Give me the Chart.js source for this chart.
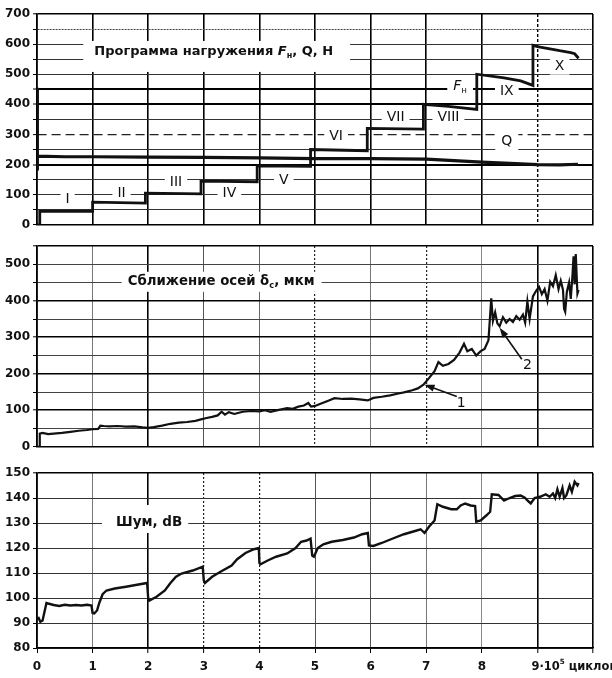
<!DOCTYPE html>
<html>
<head>
<meta charset="utf-8">
<script src="https://cdn.jsdelivr.net/npm/chart.js@4.4.0/dist/chart.umd.min.js"></script>
<style>
  html, body { margin: 0; padding: 0; background: #fff; }
  #wrap { position: relative; width: 612px; height: 678px; overflow: hidden; background: #fff; }
  #wrap canvas { position: absolute; left: 0; }
</style>
</head>
<body>
<div id="wrap">
  <canvas id="loadChart" width="612" height="235" style="top:0px"></canvas>
  <canvas id="approachChart" width="612" height="222" style="top:235px"></canvas>
  <canvas id="noiseChart" width="612" height="221" style="top:457px"></canvas>
</div>
<script>
// ---------- Loading programme: normal load F_N (steps I..X) and Q, N ----------
const fnCycles = [0, 0.05, 0.05, 1.0, 1.0, 1.95, 1.95, 2.95, 2.95, 3.96, 3.96, 4.92, 4.92, 5.94, 5.94, 6.95, 6.95, 7.4, 7.91, 7.91, 8.4, 8.7, 8.92, 8.92, 9.0, 9.2, 9.4, 9.6, 9.67, 9.74];
const fnLoad   = [0, 0, 45, 45, 75, 72, 105, 103, 145, 143, 196, 194, 250, 246, 320, 318, 400, 393, 383, 500, 488, 478, 463, 596, 592, 585, 578, 572, 568, 553];

const qCycles = [0, 0.003, 0.01, 0.5, 1, 2, 3, 4, 5, 6, 7, 7.5, 8, 8.5, 9, 9.4, 9.73];
const qLoad   = [455, 180, 228, 226, 226, 225, 224, 222, 220, 220, 218, 213, 208, 204, 200, 199, 201];

// ---------- Axis approach delta_c, um ----------
const deltaCycles = [0, 0.04, 0.05, 0.1, 0.2, 0.3, 0.45, 0.6, 0.75, 0.9, 1.0, 1.1, 1.14, 1.2, 1.3, 1.45, 1.6, 1.75, 1.9, 2.0,
  2.1, 2.25, 2.4, 2.55, 2.7, 2.85, 2.95, 3.05, 3.15, 3.25, 3.32, 3.38, 3.45, 3.55, 3.7, 3.85, 4.0, 4.1, 4.2, 4.35,
  4.5, 4.6, 4.7, 4.8, 4.88, 4.93, 5.0, 5.1, 5.25, 5.35, 5.5, 5.65, 5.8, 5.95, 6.05, 6.2, 6.35, 6.5, 6.6, 6.75,
  6.85, 6.95, 7.05, 7.15, 7.22, 7.3, 7.4, 7.5, 7.6, 7.68, 7.74, 7.82, 7.9, 7.98, 8.05, 8.12, 8.17, 8.2, 8.24, 8.28,
  8.32, 8.38, 8.44, 8.5, 8.56, 8.62, 8.68, 8.74, 8.78, 8.82, 8.86, 8.92, 8.98, 9.03, 9.08, 9.13, 9.18, 9.23, 9.28, 9.33,
  9.38, 9.42, 9.46, 9.48, 9.5, 9.53, 9.57, 9.6, 9.63, 9.65, 9.67, 9.69, 9.72, 9.74];
const deltaValues = [0, 0, 36, 38, 35, 36, 38, 41, 44, 46, 48, 49, 58, 57, 56, 57, 55, 56, 53, 52,
  54, 58, 63, 66, 68, 71, 75, 79, 82, 86, 96, 88, 95, 90, 96, 98, 97, 100, 96, 101,
  106, 104, 110, 113, 120, 110, 112, 118, 127, 133, 131, 132, 130, 127, 134, 137, 141, 146, 149, 155,
  160, 170, 188, 207, 232, 222, 227, 238, 258, 282, 262, 268, 250, 262, 268, 292, 407, 345, 368, 338,
  330, 355, 340, 350, 342, 358, 348, 362, 340, 398, 350, 412, 428, 438, 418, 432, 400, 452, 440, 470,
  432, 455, 430, 378, 370, 425, 450, 405, 468, 522, 445, 528, 420, 430];

// ---------- Noise, dB ----------
const noiseCycles = [0, 0.03, 0.06, 0.1, 0.13, 0.17, 0.2, 0.3, 0.4, 0.5, 0.6, 0.7, 0.8, 0.9, 0.98, 1.0, 1.03, 1.08, 1.12, 1.18,
  1.25, 1.4, 1.6, 1.8, 1.98, 2.0, 2.02, 2.15, 2.3, 2.4, 2.5, 2.6, 2.8, 2.98, 3.0, 3.02, 3.15, 3.3, 3.5, 3.6,
  3.75, 3.9, 3.99, 4.0, 4.02, 4.15, 4.3, 4.5, 4.65, 4.75, 4.85, 4.92, 4.95, 4.98, 5.05, 5.15, 5.3, 5.5, 5.7, 5.85,
  5.95, 5.97, 6.05, 6.2, 6.4, 6.6, 6.8, 6.9, 6.97, 7.05, 7.15, 7.2, 7.3, 7.45, 7.55, 7.62, 7.7, 7.8, 7.88, 7.9,
  7.98, 8.08, 8.15, 8.18, 8.3, 8.4, 8.5, 8.6, 8.7, 8.78, 8.82, 8.88, 8.95, 9.05, 9.15, 9.22, 9.28, 9.32, 9.36, 9.4,
  9.45, 9.48, 9.52, 9.58, 9.62, 9.67, 9.72, 9.74];
const noiseValues = [91.5, 92, 90.5, 91, 94, 98, 97.8, 97.2, 96.8, 97.3, 97, 97.2, 97, 97.3, 97, 94, 93.8, 95, 98, 101.5,
  103, 103.8, 104.5, 105.3, 106, 100, 99, 100.5, 103, 106, 108.5, 109.8, 111, 112.5, 107, 106, 108.5, 110.5, 113, 115.5,
  118, 119.5, 120, 114, 113.5, 115, 116.5, 117.8, 120, 122.5, 123, 123.8, 117, 116.5, 120, 121.5, 122.5, 123.2, 124.2, 125.5,
  126, 121, 120.8, 122, 123.8, 125.5, 126.8, 127.5, 126, 128.5, 131, 137.5, 136.5, 135.5, 135.5, 137, 137.8, 137, 136.8, 130.5,
  131, 133, 134.5, 141.5, 141.2, 139, 140, 140.8, 141, 140, 139, 137.8, 140, 140.5, 141.5, 140.5, 141.8, 140, 143.5, 140.5,
  144, 140, 141, 145, 142.5, 146.5, 145, 146];

// ---------- Tick labels and text ----------
const cycleTickLabels = ['0', '1', '2', '3', '4', '5', '6', '7', '8'];
const stageNames  = ['I', 'II', 'III', 'IV', 'V', 'VI', 'VII', 'VIII', 'IX', 'X'];
const stageCycles = [0.55, 1.52, 2.50, 3.46, 4.44, 5.38, 6.45, 7.40, 8.45, 9.40];
const stageLevels = [83, 103, 140, 103, 149, 295, 357, 357, 442, 525];

const FONT = "'DejaVu Sans', 'Liberation Sans', Arial, sans-serif";
const INK = '#111';

function toPoints(xs, ys) { return xs.map((x, i) => ({ x: x, y: ys[i] })); }

// ---------- rich text helpers (italic / subscript / superscript pieces) ----------
function layoutRich(ctx, parts, size, weight) {
  let w = 0;
  const segs = parts.map(p => {
    const small = p.sub || p.sup;
    const fs = small ? size * 0.62 : size;
    const font = (p.it ? 'italic ' : '') + weight + ' ' + fs + 'px ' + FONT;
    ctx.font = font;
    const sw = ctx.measureText(p.t).width;
    const seg = { t: p.t, font: font, dx: w, dy: p.sub ? size * 0.32 : (p.sup ? -size * 0.38 : 0), w: sw };
    w += sw;
    return seg;
  });
  return { segs: segs, w: w };
}

function notePosition(chart, item, ctx) {
  const cx = chart.scales.x.getPixelForValue(item.x);
  const cy = chart.scales.y.getPixelForValue(item.y);
  const lay = layoutRich(ctx, item.parts, item.size, item.weight || 'bold');
  const left = item.align === 'left' ? cx : cx - lay.w / 2;
  return { left: left, cy: cy, lay: lay };
}

function makeNotes(items, arrows) {
  return {
    id: 'notes',
    beforeDatasetsDraw(chart) {
      const ctx = chart.ctx;
      ctx.save();
      ctx.fillStyle = '#fff';
      items.forEach(item => {
        if (!item.box) return;
        const p = notePosition(chart, item, ctx);
        const b = item.box; // top, right, bottom, left
        ctx.fillRect(p.left - b[3], p.cy - b[0], p.lay.w + b[1] + b[3], b[0] + b[2]);
      });
      ctx.restore();
    },
    afterDatasetsDraw(chart) {
      const ctx = chart.ctx;
      ctx.save();
      ctx.fillStyle = INK;
      ctx.textBaseline = 'middle';
      ctx.textAlign = 'left';
      items.forEach(item => {
        const p = notePosition(chart, item, ctx);
        p.lay.segs.forEach(s => {
          ctx.font = s.font;
          ctx.fillText(s.t, p.left + s.dx, p.cy + s.dy);
        });
      });
      (arrows || []).forEach(a => {
        const xs = chart.scales.x, ys = chart.scales.y;
        const x1 = xs.getPixelForValue(a.from[0]), y1 = ys.getPixelForValue(a.from[1]);
        const x2 = xs.getPixelForValue(a.to[0]), y2 = ys.getPixelForValue(a.to[1]);
        const ang = Math.atan2(y2 - y1, x2 - x1);
        ctx.strokeStyle = INK;
        ctx.lineWidth = 1.6;
        ctx.beginPath();
        ctx.moveTo(x1, y1);
        ctx.lineTo(x2 - 6 * Math.cos(ang), y2 - 6 * Math.sin(ang));
        ctx.stroke();
        ctx.beginPath();
        ctx.moveTo(x2, y2);
        ctx.lineTo(x2 - 10 * Math.cos(ang) + 3.5 * Math.sin(ang), y2 - 10 * Math.sin(ang) - 3.5 * Math.cos(ang));
        ctx.lineTo(x2 - 10 * Math.cos(ang) - 3.5 * Math.sin(ang), y2 - 10 * Math.sin(ang) + 3.5 * Math.cos(ang));
        ctx.closePath();
        ctx.fill();
      });
      ctx.restore();
    }
  };
}

// Label "9·10^5 циклов" drawn beside the tick at 9
const cycleUnitPlugin = {
  id: 'cycleUnit',
  afterDraw(chart) {
    const ctx = chart.ctx;
    const xs = chart.scales.x;
    const x0 = xs.getPixelForValue(9) - 6;
    const y0 = chart.chartArea.bottom + 19;
    const lay = layoutRich(ctx, [{ t: '9·10' }, { t: '5', sup: 1 }, { t: ' циклов' }], 11.5, 'bold');
    ctx.save();
    ctx.fillStyle = INK;
    ctx.textBaseline = 'middle';
    ctx.textAlign = 'left';
    lay.segs.forEach(s => { ctx.font = s.font; ctx.fillText(s.t, x0 + s.dx, y0 + s.dy); });
    ctx.restore();
  }
};

// ---------- grid styling ----------
function styled(map, def) {
  const get = c => (c.tick && map[c.tick.value]) || def;
  return {
    color: c => get(c)[1],
    lineWidth: c => get(c)[0],
    dash: c => (c.tick ? (get(c)[2] || []) : [])
  };
}

function panelOptions(cfg) {
  const yS = styled(cfg.yStyles, cfg.yDefault);
  const xS = styled(cfg.xStyles, cfg.xDefault);
  return {
    responsive: false,
    animation: false,
    devicePixelRatio: 1,
    events: [],
    layout: { padding: cfg.padding },
    plugins: { legend: { display: false }, tooltip: { enabled: false } },
    elements: { point: { radius: 0 }, line: { tension: 0 } },
    scales: {
      x: {
        type: 'linear', min: 0, max: 10,
        afterFit: s => { s.height = cfg.xHeight; },
        border: { display: true, color: '#000', width: 1.6, dash: xS.dash },
        grid: { color: xS.color, lineWidth: xS.lineWidth, drawTicks: cfg.showX, tickLength: 5, tickColor: '#000', tickWidth: 1 },
        ticks: {
          display: cfg.showX, stepSize: 1, autoSkip: false, maxRotation: 0, maxTicksLimit: 20, padding: 7,
          color: INK, font: { family: FONT, size: 12, weight: 'bold' },
          callback: v => (v <= 8 ? cycleTickLabels[v] : '')
        }
      },
      y: {
        type: 'linear', min: cfg.yMin, max: cfg.yMax,
        afterFit: s => { s.width = 37; },
        border: { display: true, color: '#000', width: 1.6, dash: yS.dash },
        grid: { color: yS.color, lineWidth: yS.lineWidth, tickLength: 4, tickColor: '#000', tickWidth: 1 },
        ticks: {
          stepSize: cfg.yStep, autoSkip: false, maxTicksLimit: 20, padding: 3,
          color: INK, font: { family: FONT, size: 12, weight: 'bold' },
          callback: v => (v % cfg.yLabelEvery === 0 ? String(v) : '')
        }
      }
    }
  };
}

// ---------- panel 1: loading programme ----------
const loadNotes = [
  { x: 1.03, y: 574, align: 'left', size: 13,
    parts: [{ t: 'Программа нагружения ' }, { t: 'F', it: 1 }, { t: 'н', sub: 1 }, { t: ', Q, H' }],
    box: [11, 17, 20, 11] }
];
stageNames.forEach((name, i) => {
  loadNotes.push({ x: stageCycles[i], y: stageLevels[i], align: 'center', size: 14, weight: 'normal', parts: [{ t: name }], box: [8, 5, 8, 5] });
});
loadNotes.push({ x: 7.61, y: 461, align: 'center', size: 14, weight: 'normal', parts: [{ t: 'F', it: 1 }, { t: 'н', sub: 1 }], box: [9, 6, 9, 6] });
loadNotes.push({ x: 8.45, y: 276, align: 'center', size: 14, weight: 'normal', parts: [{ t: 'Q' }], box: [10, 6, 10, 6] });

new Chart(document.getElementById('loadChart'), {
  type: 'line',
  data: {
    datasets: [
      { data: toPoints(fnCycles, fnLoad), borderColor: INK, borderWidth: 2.8, pointRadius: 0 },
      { data: toPoints(qCycles, qLoad), borderColor: INK, borderWidth: 3.2, pointRadius: 0 }
    ]
  },
  options: panelOptions({
    padding: { top: 14, right: 19, bottom: 10, left: 0 },
    xHeight: 0, showX: false,
    yMin: 0, yMax: 700, yStep: 50, yLabelEvery: 100,
    yStyles: { 200: [2, '#000'], 400: [2, '#000'], 450: [2, '#000'], 700: [1.6, '#000'], 300: [1.2, '#222', [9, 5]], 650: [1, '#444', [2, 1]] },
    yDefault: [1, '#333'],
    xStyles: { 9: [1.4, '#000', [3, 2]] },
    xDefault: [1.6, '#000']
  }),
  plugins: [makeNotes(loadNotes, [])]
});

// ---------- panel 2: axis approach ----------
const approachNotes = [
  { x: 1.63, y: 452, align: 'left', size: 13.3,
    parts: [{ t: 'Сближение осей δ' }, { t: 'с', sub: 1 }, { t: ', мкм' }],
    box: [10, 7, 10, 6] },
  { x: 7.63, y: 118, align: 'center', size: 14, weight: 'normal', parts: [{ t: '1' }] },
  { x: 8.82, y: 222, align: 'center', size: 14, weight: 'normal', parts: [{ t: '2' }] }
];
const approachArrows = [
  { from: [7.55, 138], to: [6.97, 170] },
  { from: [8.72, 240], to: [8.32, 326] }
];

new Chart(document.getElementById('approachChart'), {
  type: 'line',
  data: {
    datasets: [
      { data: toPoints(deltaCycles, deltaValues), borderColor: INK, borderWidth: 2.2, pointRadius: 0 }
    ]
  },
  options: panelOptions({
    padding: { top: 11, right: 19, bottom: 10, left: 0 },
    xHeight: 0, showX: false,
    yMin: 0, yMax: 550, yStep: 50, yLabelEvery: 100,
    yStyles: { 100: [1.6, '#000'], 200: [1.6, '#000'], 300: [1.6, '#000'], 400: [1.6, '#000'], 550: [1.6, '#000'] },
    yDefault: [1, '#444'],
    xStyles: { 1: [1, '#777'], 2: [1.6, '#000'], 3: [1, '#555'], 4: [1, '#666'], 5: [1.2, '#222', [2, 2]],
               6: [1, '#777'], 7: [1.2, '#222', [2, 2]], 8: [1, '#888'], 9: [1.6, '#000'], 10: [1.6, '#000'] },
    xDefault: [1, '#555']
  }),
  plugins: [makeNotes(approachNotes, approachArrows)]
});

// ---------- panel 3: noise ----------
const noiseNotes = [
  { x: 1.42, y: 130.4, align: 'left', size: 13.5, parts: [{ t: 'Шум, dB' }], box: [17, 6, 11, 14] }
];

new Chart(document.getElementById('noiseChart'), {
  type: 'line',
  data: {
    datasets: [
      { data: toPoints(noiseCycles, noiseValues), borderColor: INK, borderWidth: 2.4, pointRadius: 0 }
    ]
  },
  options: panelOptions({
    padding: { top: 16, right: 19, bottom: 0, left: 0 },
    xHeight: 30, showX: true,
    yMin: 80, yMax: 150, yStep: 10, yLabelEvery: 10,
    yStyles: { 150: [1.6, '#000'] },
    yDefault: [1, '#333'],
    xStyles: { 1: [1, '#777'], 2: [1.6, '#000'], 3: [1.2, '#222', [2, 2]], 4: [1.2, '#222', [2, 2]],
               5: [1, '#555'], 6: [1, '#555'], 7: [1, '#777'], 8: [1, '#888'], 9: [1.6, '#000'], 10: [1.6, '#000'] },
    xDefault: [1, '#555']
  }),
  plugins: [makeNotes(noiseNotes, []), cycleUnitPlugin]
});
</script>
</body>
</html>
